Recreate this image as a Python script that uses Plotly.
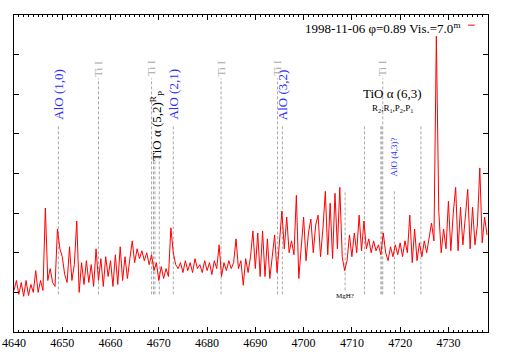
import numpy as np
import plotly.graph_objects as go

# flux, 0.5 A steps from 4640 A
flux = [
    1.05, 1.3, 0.95, 1.25, 0.9, 1.3, 0.92, 1.2, 1.0, 1.55,
    1.0, 1.3, 1.05, 3.13, 1.3, 1.6, 1.25, 1.15, 2.6, 2.1,
    1.9, 1.45, 1.25, 2.15, 1.3, 1.7, 2.8, 1.0, 1.75, 1.2,
    1.8, 1.25, 1.7, 1.15, 2.1, 1.3, 1.85, 1.15, 1.9, 1.4,
    1.8, 1.15, 1.95, 1.2, 2.15, 1.3, 1.9, 1.35, 1.85, 2.3,
    1.75, 2.1, 1.85, 2.05, 1.8, 2.0, 1.7, 1.95, 1.55, 1.75,
    1.3, 1.65, 1.35, 1.6, 1.4, 2.63, 2.0, 1.7, 1.6, 1.75,
    1.5, 1.8, 1.55, 1.75, 1.5, 1.85, 1.6, 1.7, 1.5, 1.8,
    1.55, 1.75, 1.45, 1.8, 1.6, 2.2, 1.4, 1.75, 1.55, 1.8,
    1.6, 1.75, 2.35, 1.6, 1.8, 1.18, 1.85, 1.5, 1.9, 2.55,
    1.6, 2.5, 1.4, 2.55, 1.4, 2.35, 1.35, 1.9, 2.45, 1.5,
    2.2, 3.05, 2.1, 2.9, 2.0, 2.3, 1.95, 3.45, 1.35, 2.2,
    2.9, 1.8, 2.5, 2.85, 2.0, 2.7, 2.95, 1.9, 2.6, 3.55,
    1.95, 3.25, 1.85, 3.5, 2.1, 3.65, 1.9, 1.55, 1.8, 2.45,
    1.9, 2.5, 2.0, 2.95, 2.05, 2.8, 2.1, 2.35, 2.0, 2.3,
    2.05, 2.2, 1.95, 2.5, 2.0, 1.8, 2.15, 1.9, 2.2, 1.95,
    2.25, 1.9, 2.3, 2.0, 2.95, 1.75, 2.6, 1.8, 2.25, 1.9,
    2.3, 2.0, 2.4, 2.75, 2.3, 7.47, 3.05, 2.0, 2.6, 2.1,
    3.3, 2.05, 3.0, 3.65, 2.05, 3.15, 2.2, 2.9, 3.6, 2.1,
    3.15, 2.2, 2.7, 4.14, 2.25, 2.9, 2.45,
]
wave = 4640 + 0.5 * np.arange(len(flux))

# line identifications: wavelength, top and bottom of dashed marker
id_wave = [4649.2, 4657.5, 4668.5, 4668.9, 4669.2, 4670.1, 4673.0, 4682.9,
           4694.6, 4695.6, 4708.6, 4712.6, 4716.0, 4716.2, 4716.4, 4718.8, 4724.3]
id_top = [5.2, 6.4, 6.4, 4.4, 4.4, 4.4, 5.2, 6.4,
          6.4, 5.2, 3.58, 5.2, 5.2, 5.2, 6.4, 3.6, 5.2]
id_bot = [0.95, 0.95, 0.95, 0.95, 0.95, 0.95, 0.95, 0.95,
          0.95, 0.95, 1.05, 0.95, 0.95, 0.95, 0.95, 0.95, 0.95]

alo_labels = ["AlO (1,0)", "AlO (2,1)", "AlO (3,2)"]
alo_wave = [4649.2, 4673.0, 4695.5]
ti_wave = [4657.5, 4668.5, 4682.9, 4694.6, 4716.4]

serif = "Liberation Serif"
blue = "#2a2aff"
grey = "#a8a8a8"

fig = go.Figure()

lx, ly = [], []
for w, t, b in zip(id_wave, id_top, id_bot):
    lx += [w, w, None]
    ly += [b, t, None]
fig.add_trace(go.Scatter(x=lx, y=ly, mode="lines",
                         line=dict(color=grey, width=1, dash="3px,2px"),
                         showlegend=False, hoverinfo="skip"))

fig.add_trace(go.Scatter(x=wave, y=flux, mode="lines",
                         line=dict(color="#ff0000", width=1),
                         showlegend=False))

ann = []
for lab, w in zip(alo_labels, alo_wave):
    ann.append(dict(x=w, y=6.0, text=lab, textangle=-90, showarrow=False,
                    font=dict(family=serif, size=13, color=blue)))
for w in ti_wave:
    ann.append(dict(x=w, y=6.65, text="Ti I", textangle=-90, showarrow=False,
                    font=dict(family=serif, size=11, color=grey)))
ann.append(dict(x=4669.6, y=5.2, text="TiO α (5,2)<sup>R</sup><sub>P</sub>",
                textangle=-90, showarrow=False,
                font=dict(family=serif, size=13, color="black")))
ann.append(dict(x=4718.5, y=6.03, text="TiO α (6,3)", showarrow=False,
                font=dict(family=serif, size=13, color="black")))
ann.append(dict(x=4718.5, y=5.65,
                text="R<sub>2</sub>,R<sub>1</sub>,P<sub>2</sub>,P<sub>1</sub>",
                showarrow=False, font=dict(family=serif, size=9, color="black")))
ann.append(dict(x=4718.8, y=4.41, text="AlO (4,3)?", textangle=-90, showarrow=False,
                font=dict(family=serif, size=9, color=blue)))
ann.append(dict(x=4708.6, y=0.9, text="MgH?", showarrow=False,
                font=dict(family=serif, size=7, color="black")))
ann.append(dict(x=0.946, y=0.99, xref="paper", yref="paper",
                xanchor="right", yanchor="top",
                text="1998-11-06 φ=0.89 Vis.=7.0<sup>m</sup>", showarrow=False,
                font=dict(family=serif, size=13, color="black")))

fig.update_layout(
    width=509, height=356, autosize=False,
    margin=dict(l=14, r=21, t=15, b=24, autoexpand=False),
    paper_bgcolor="white", plot_bgcolor="white",
    annotations=ann,
    shapes=[dict(type="line", xref="paper", yref="paper",
                 x0=0.958, x1=0.972, y0=0.968, y1=0.968,
                 line=dict(color="#ff0000", width=1))],
    font=dict(family=serif, size=12, color="black"),
)
fig.update_xaxes(range=[4640, 4738.2], dtick=10, tick0=4640, automargin=False,
                 ticklabeloverflow="allow",
                 showline=True, linecolor="black", linewidth=1, mirror="allticks",
                 ticks="inside", ticklen=5, tickcolor="black",
                 minor=dict(ticks="inside", dtick=1, ticklen=2, tickcolor="black"),
                 showgrid=False, zeroline=False,
                 tickfont=dict(family=serif, size=12))
fig.update_yaxes(range=[0, 8], dtick=1, showticklabels=False, automargin=False,
                 showline=True, linecolor="black", linewidth=1, mirror="allticks",
                 ticks="inside", ticklen=5, tickcolor="black",
                 showgrid=False, zeroline=False)

# drop the page's default body margin so the figure sits at the window corner
fig.write_html("out.html", config={"displayModeBar": False},
               post_script="document.body.style.margin = '0';")
